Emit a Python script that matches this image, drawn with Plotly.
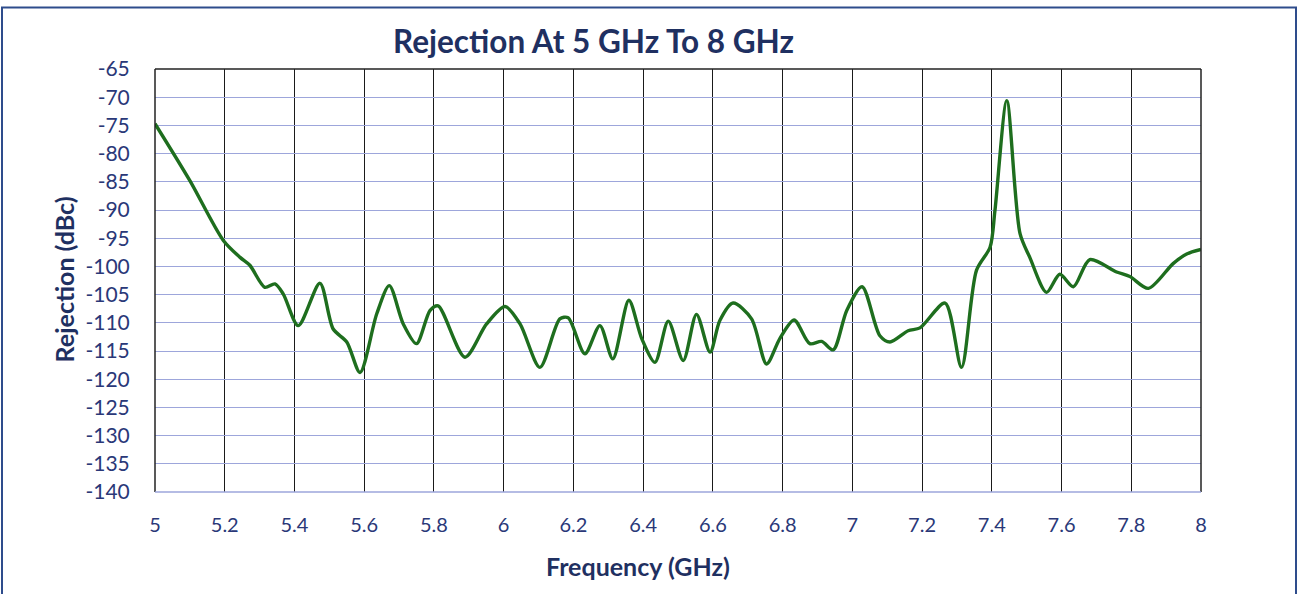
import plotly.graph_objects as go

freq_ghz = [5.0, 5.1, 5.196, 5.244, 5.272, 5.315, 5.344, 5.368, 5.411, 5.473, 5.511, 5.55, 5.588,
            5.636, 5.672, 5.712, 5.75, 5.789, 5.812, 5.889, 5.951, 6.004, 6.047, 6.104, 6.161,
            6.185, 6.233, 6.276, 6.313, 6.359, 6.396, 6.434, 6.472, 6.515, 6.553, 6.592, 6.62,
            6.658, 6.711, 6.754, 6.792, 6.833, 6.878, 6.912, 6.945, 6.984, 7.028, 7.079, 7.108,
            7.16, 7.194, 7.266, 7.313, 7.356, 7.395, 7.409, 7.443, 7.481, 7.509, 7.557, 7.595,
            7.634, 7.681, 7.758, 7.796, 7.849, 7.92, 7.959, 8.0]
rejection_dbc = [-74.7, -84.8, -95.4, -98.4, -99.8, -103.7, -103.1, -104.9, -110.5, -103.0, -111.1,
                 -113.4, -118.8, -108.4, -103.4, -110.2, -113.7, -107.8, -107.0, -116.1, -110.2,
                 -107.1, -110.2, -117.9, -109.3, -109.1, -115.5, -110.5, -116.4, -106.0, -112.8,
                 -117.0, -109.7, -116.7, -108.5, -115.2, -109.6, -106.5, -109.3, -117.3, -112.8,
                 -109.5, -113.7, -113.3, -114.8, -107.8, -103.6, -112.3, -113.4, -111.4, -110.9,
                 -106.5, -117.9, -100.7, -96.6, -90.1, -70.6, -94.2, -98.4, -104.6, -101.4,
                 -103.6, -98.8, -101.0, -101.8, -103.9, -99.5, -97.8, -97.0]

x_ticks = [5.0, 5.2, 5.4, 5.6, 5.8, 6.0, 6.2, 6.4, 6.6, 6.8, 7.0, 7.2, 7.4, 7.6, 7.8, 8.0]
x_tick_labels = ["5", "5.2", "5.4", "5.6", "5.8", "6", "6.2", "6.4", "6.6", "6.8", "7", "7.2",
                 "7.4", "7.6", "7.8", "8"]
y_ticks = list(range(-65, -141, -5))
y_tick_labels = [str(v) for v in y_ticks]

title_text = "Rejection At 5 GHz To 8 GHz"
x_title = "Frequency (GHz)"
y_title = "Rejection (dBc)"

NAVY = "#1F3061"
TICK = "#2A3878"
FONT = "Lato"

fig = go.Figure()
fig.add_trace(go.Scatter(
    x=freq_ghz, y=rejection_dbc, mode="lines",
    line=dict(color="#1E6E1E", width=3.4, shape="spline", smoothing=0.8),
    showlegend=False, hoverinfo="x+y",
))

L, R, T, B = 155, 103, 68.5, 102.3
W, H = 1304, 594
pw, ph = W - L - R, H - T - B

fig.update_layout(
    width=W, height=H,
    margin=dict(l=L, r=R, t=T, b=B),
    paper_bgcolor="white", plot_bgcolor="white",
    font=dict(family=FONT, color=TICK, size=20),
    xaxis=dict(
        range=[5, 8], tickvals=x_ticks, ticktext=x_tick_labels,
        showgrid=True, gridcolor="#1a1a1a", gridwidth=1.2,
        zeroline=False, showline=False,
        ticks="outside", ticklen=15, tickcolor="rgba(0,0,0,0)",
        tickfont=dict(family=FONT, size=20, color=TICK),
    ),
    yaxis=dict(
        range=[-140, -65], tickvals=y_ticks, ticktext=y_tick_labels,
        showgrid=True, gridcolor="#9DA6DB", gridwidth=1,
        zeroline=False, showline=False,
        ticks="outside", ticklen=20, tickcolor="rgba(0,0,0,0)",
        tickfont=dict(family=FONT, size=21, color=TICK),
    ),
    shapes=[
        dict(type="line", xref="paper", yref="paper", x0=0, x1=1, y0=1, y1=1,
             line=dict(color="#222222", width=1.5)),
        dict(type="line", xref="paper", yref="paper", x0=0, x1=0, y0=0, y1=1,
             line=dict(color="#222222", width=1.5)),
        dict(type="line", xref="paper", yref="paper", x0=1, x1=1, y0=0, y1=1,
             line=dict(color="#222222", width=1.5)),
        dict(type="line", xref="paper", yref="paper", x0=0, x1=1, y0=0, y1=0,
             line=dict(color="#9DA6DB", width=1.5)),
        dict(type="rect", xref="paper", yref="paper",
             x0=(2 - L) / pw, x1=(1296 - L) / pw,
             y0=(H - B - 620) / ph, y1=(H - B - 7) / ph,
             line=dict(color="#2E4C8C", width=2), fillcolor="rgba(0,0,0,0)", layer="below"),
    ],
    annotations=[
        dict(text="<b>" + title_text + "</b>", xref="paper", yref="paper",
             x=(593 - L) / pw, y=(H - B - 40) / ph, xanchor="center", yanchor="middle",
             showarrow=False, font=dict(family=FONT, size=31.5, color=NAVY)),
        dict(text="<b>" + x_title + "</b>", xref="paper", yref="paper",
             x=(637.5 - L) / pw, y=(H - B - 566) / ph, xanchor="center", yanchor="middle",
             showarrow=False, font=dict(family=FONT, size=25, color=NAVY)),
        dict(text="<b>" + y_title + "</b>", xref="paper", yref="paper",
             x=(64 - L) / pw, y=(H - B - 279) / ph, xanchor="center", yanchor="middle",
             textangle=-90, showarrow=False, font=dict(family=FONT, size=25, color=NAVY)),
    ],
)

fig.write_html(
    "out.html",
    config={"displayModeBar": False},
    post_script="document.body.style.margin='0px';document.body.style.overflow='hidden';",
)
